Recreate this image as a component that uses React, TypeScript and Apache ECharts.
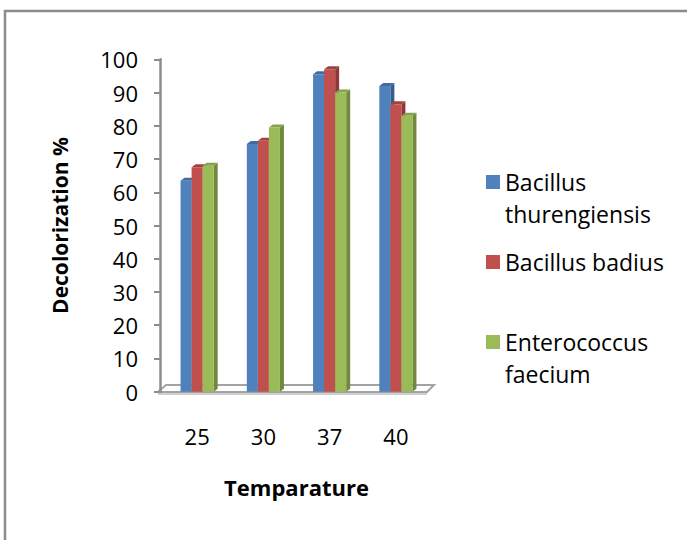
import React, { useEffect, useRef } from 'react';
import * as echarts from 'echarts';

// ---- data ----
const categories = ['25', '30', '37', '40'];
const seriesNames = ['Bacillus thurengiensis', 'Bacillus badius', 'Enterococcus faecium'];
const thurengiensis = [63.5, 74.5, 95.5, 92];
const badius = [67.5, 75.5, 97, 86.5];
const faecium = [68, 79.5, 90, 83];
const yMin = 0;
const yMax = 100;
const yInterval = 10;

const seriesValues = [thurengiensis, badius, faecium];
const frontColors = ['#4F81BD', '#C0504D', '#9BBB59'];
const sideColors = ['#385D8A', '#8C3A37', '#71893F'];
const topColors = ['#3F6CA4', '#A4403D', '#85A34B'];

const FONT = '"Open Sans", "Noto Sans", sans-serif';

const makeRender = (idx: number) => (params: any, api: any) => {
  const c = api.value(0);
  const v = api.value(1);
  const base = api.coord([c, 0]);
  const top = api.coord([c, v]);
  const band = api.size([1, 0])[0];
  const bw = band / 6;
  const x0 = base[0] - 1.5 * bw + idx * bw;
  const dx = 4;
  const dy = -3;
  const y1 = top[1];
  const y0 = base[1];
  return {
    type: 'group',
    children: [
      {
        type: 'polygon',
        shape: { points: [[x0 + bw, y1], [x0 + bw + dx, y1 + dy], [x0 + bw + dx, y0 + dy], [x0 + bw, y0]] },
        style: { fill: sideColors[idx] },
      },
      {
        type: 'polygon',
        shape: { points: [[x0, y1], [x0 + dx, y1 + dy], [x0 + bw + dx, y1 + dy], [x0 + bw, y1]] },
        style: { fill: topColors[idx] },
      },
      {
        type: 'rect',
        shape: { x: x0, y: y1, width: bw, height: y0 - y1 },
        style: { fill: frontColors[idx] },
      },
    ],
  };
};

export default function App() {
  const ref = useRef<HTMLDivElement>(null);
  useEffect(() => {
    if (!ref.current) return;
    const chart = echarts.init(ref.current, null, { renderer: 'svg' });
    const option: any = {
      animation: false,
      backgroundColor: '#ffffff',
      grid: { left: 164, top: 59.3, width: 265, height: 332.4, containLabel: false },
      legend: {
        orient: 'vertical',
        left: 486,
        top: 134,
        padding: 0,
        itemWidth: 14,
        itemHeight: 14,
        itemGap: 16,
        icon: 'rect',
        selectedMode: false,
        data: seriesNames,
        formatter: (name: string) =>
          name === 'Bacillus badius' ? name : '\n' + name.replace(' ', '\n'),
        textStyle: { fontFamily: FONT, fontSize: 23, lineHeight: 32, color: '#000' },
      },
      xAxis: {
        type: 'category',
        data: categories,
        name: 'Temparature',
        nameLocation: 'middle',
        nameGap: 84,
        nameTextStyle: { fontFamily: FONT, fontSize: 22, fontWeight: 'bold', color: '#000' },
        axisLine: { show: false },
        axisTick: { show: false },
        axisLabel: { margin: 33, fontFamily: FONT, fontSize: 22, color: '#000' },
        splitLine: { show: false },
      },
      yAxis: {
        type: 'value',
        min: yMin,
        max: yMax,
        interval: yInterval,
        offset: 4,
        name: 'Decolorization %',
        nameLocation: 'middle',
        nameGap: 90,
        nameRotate: 90,
        nameTextStyle: { fontFamily: FONT, fontSize: 21, fontWeight: 'bold', color: '#000' },
        axisLine: { show: true, lineStyle: { color: '#8c8c8c', width: 2.5 } },
        axisTick: { show: true, length: 6, lineStyle: { color: '#8c8c8c', width: 2 } },
        axisLabel: { margin: 22, fontFamily: FONT, fontSize: 22, color: '#000' },
        splitLine: { show: false },
      },
      graphic: [
        {
          type: 'rect',
          z: -10,
          shape: { x: 5, y: 11, width: 720, height: 560 },
          style: { fill: 'none', stroke: '#8c8c8c', lineWidth: 2.5 },
        },
        {
          type: 'polygon',
          z: 0,
          shape: { points: [[158, 392], [427, 392], [434, 385], [166, 385]] },
          style: { fill: '#ffffff', stroke: '#a3a3a3', lineWidth: 2 },
        },
        {
          type: 'line',
          z: 0,
          shape: { x1: 158, y1: 394, x2: 427, y2: 394 },
          style: { stroke: '#cfcfcf', lineWidth: 2 },
        },
      ],
      series: seriesNames.map((name, idx) => ({
        type: 'custom',
        name,
        itemStyle: { color: frontColors[idx] },
        encode: { x: 0, y: 1 },
        data: categories.map((_, i) => [i, seriesValues[idx][i]]),
        renderItem: makeRender(idx),
        z: 2 + idx,
      })),
    };
    chart.setOption(option);
    return () => chart.dispose();
  }, []);
  return (
    <div
      ref={ref}
      style={{ position: 'absolute', left: 0, top: 0, width: 687, height: 540 }}
    />
  );
}
